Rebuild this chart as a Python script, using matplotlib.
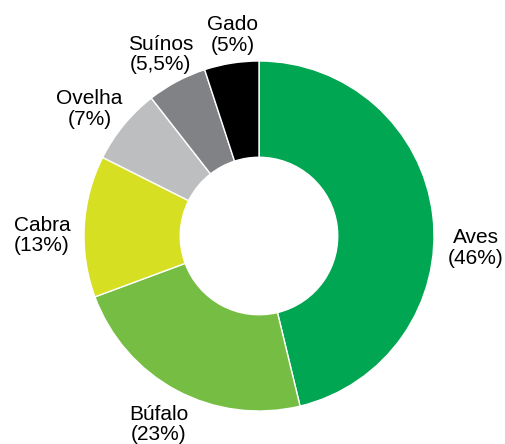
import numpy as np
import matplotlib.pyplot as plt

plt.rcParams['font.family'] = ['Liberation Sans', 'DejaVu Sans']

categories = ['Aves', 'Búfalo', 'Cabra', 'Ovelha', 'Suínos', 'Gado']
pct_labels = ['46%', '23%', '13%', '7%', '5,5%', '5%']
values = [46, 23, 13, 7, 5.5, 5]
colors = ['#00a651', '#76bd43', '#d7df23', '#bcbec0', '#808285', '#000000']

labels = [c + '\n(' + p + ')' for c, p in zip(categories, pct_labels)]

fig = plt.figure(figsize=(5.06, 4.44), dpi=100)
ax = fig.add_axes([84 / 506, 33 / 444, 350 / 506, 350 / 444])

wedges, texts = ax.pie(values, labels=labels, colors=colors, startangle=90,
                       counterclock=False, labeldistance=1.22,
                       wedgeprops=dict(width=0.55, edgecolor='white', linewidth=1),
                       textprops=dict(ha='center', va='center', fontsize=15,
                                      linespacing=1.1))

# nudge labels (radius, extra angle in degrees)
label_r = [1.24, 1.22, 1.24, 1.21, 1.18, 1.16]
label_shift = [-10, 0, 3, 2.5, 0.5, -1.5]
for w, t, r, s in zip(wedges, texts, label_r, label_shift):
    a = np.deg2rad((w.theta1 + w.theta2) / 2 + s)
    t.set_position((r * np.cos(a), r * np.sin(a)))

ax.set_xlim(-1, 1)
ax.set_ylim(-1, 1)
ax.set_aspect('equal')

plt.savefig('out.png', dpi=100)
